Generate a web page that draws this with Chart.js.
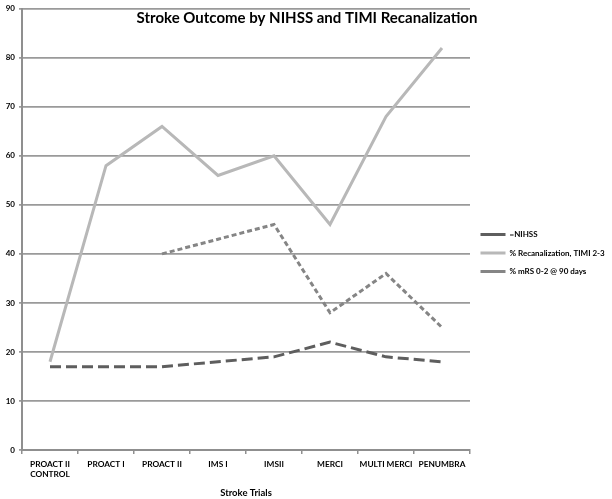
<!DOCTYPE html>
<html>
<head>
<meta charset="utf-8">
<script src="https://cdn.jsdelivr.net/npm/chart.js@4.4.1/dist/chart.umd.min.js"></script>
<style>
html,body{margin:0;padding:0;background:#fff;}
#wrap{width:612px;height:499px;position:relative;}
</style>
</head>
<body>
<div id="wrap"><canvas id="c" width="612" height="499"></canvas></div>
<script>
const categories = [['PROACT II','CONTROL'],'PROACT I','PROACT II','IMS I','IMSII','MERCI','MULTI MERCI','PENUMBRA'];
const nihss = [17,17,17,18,19,22,19,18];
const recanalization = [18,58,66,56,60,46,68,82];
const mrs90 = [null,null,40,43,46,28,36,25];
const yTicks = [0,10,20,30,40,50,60,70,80,90];
const titleText = 'Stroke Outcome by NIHSS and TIMI Recanalization';

const FONT = 'Lato, Carlito, Calibri, sans-serif';

const titlePlugin = {
  id: 'overlayTitle',
  afterDraw(chart) {
    const ctx = chart.ctx;
    ctx.save();
    ctx.font = 'bold 15px ' + FONT;
    ctx.fillStyle = '#000';
    ctx.textAlign = 'center';
    ctx.textBaseline = 'middle';
    ctx.fillText(titleText, 307, 18);
    ctx.restore();
  }
};

new Chart(document.getElementById('c'), {
  type: 'line',
  data: {
    labels: categories,
    datasets: [
      {label: '=NIHSS', data: nihss, borderColor: '#5e5e5e', backgroundColor: '#5e5e5e', borderWidth: 3, borderDash: [11,5], pointRadius: 0, tension: 0, fill: false},
      {label: '% Recanalization, TIMI 2-3', data: recanalization, borderColor: '#b8b8b8', backgroundColor: '#b8b8b8', borderWidth: 3, pointRadius: 0, tension: 0, fill: false},
      {label: '% mRS 0-2 @ 90 days', data: mrs90, borderColor: '#858585', backgroundColor: '#858585', borderWidth: 3, borderDash: [5,3], pointRadius: 0, tension: 0, fill: false}
    ]
  },
  options: {
    responsive: false,
    animation: false,
    layout: {padding: {top: 7, right: 0, left: 0, bottom: 0}},
    plugins: {
      title: {display: false},
      tooltip: {enabled: false},
      legend: {
        position: 'right',
        maxWidth: 142,
        labels: {
          boxWidth: 25,
          boxHeight: 0,
          padding: 10.5,
          color: '#000',
          font: {family: FONT, size: 8, weight: 'bold'}
        }
      }
    },
    scales: {
      x: {
        type: 'category',
        offset: true,
        grid: {display: true, drawOnChartArea: false, drawTicks: true, tickLength: 4, color: '#8f8f8f', lineWidth: 1.5, offset: true},
        border: {display: true, color: '#8f8f8f', width: 2},
        ticks: {color: '#000', font: {family: FONT, size: 8.3, weight: 'bold'}, maxRotation: 0, autoSkip: false, padding: 5},
        title: {display: true, text: 'Stroke Trials', color: '#000', font: {family: FONT, size: 9.5, weight: 'bold'}, padding: {top: 6, bottom: 0}},
        afterFit(s) { s.height = 49; }
      },
      y: {
        min: 0, max: 90,
        afterBuildTicks(s) { s.ticks = yTicks.map(v => ({value: v})); },
        grid: {color: '#9a9a9a', lineWidth: 1.8, tickLength: 3},
        border: {display: true, color: '#8f8f8f', width: 2},
        ticks: {color: '#000', font: {family: FONT, size: 8, weight: 'bold'}, padding: 4},
        afterFit(s) { s.width = 22; }
      }
    }
  },
  plugins: [titlePlugin]
});
</script>
</body>
</html>
